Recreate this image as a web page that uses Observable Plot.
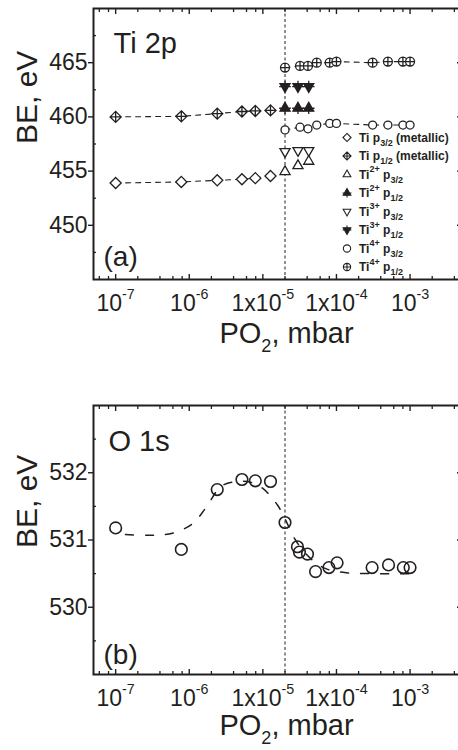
<!DOCTYPE html>
<html>
<head>
<meta charset="utf-8">
<script src="https://cdn.jsdelivr.net/npm/d3@7"></script>
<script src="https://cdn.jsdelivr.net/npm/@observablehq/plot@0.6"></script>
<style>
  body { margin: 0; background: #fff; }
  #fig { position: relative; width: 458px; height: 750px; overflow: hidden; background: #fff; }
  #fig svg { position: absolute; left: 0; }
</style>
</head>
<body>
<div id="fig"></div>
<script>
// ---- Ti 2p binding energies (eV) versus oxygen partial pressure (mbar) ----
const pMetallic = [1e-7, 7.8e-7, 2.4e-6, 5.2e-6, 7.9e-6, 1.27e-5];
const beTiMetalP32 = [453.9, 454.0, 454.15, 454.25, 454.35, 454.55];
const beTiMetalP12 = [460.0, 460.05, 460.3, 460.5, 460.55, 460.6];

const pSuboxide = [2e-5, 3e-5, 4.2e-5];
const beTi2P32 = [454.95, 455.5, 455.9];
const beTi2P12 = [460.8, 460.8, 460.8];
const beTi3P32 = [456.8, 456.9, 456.9];
const beTi3P12 = [462.8, 462.8, 462.8];

const pTi4 = [2e-5, 3.2e-5, 4.1e-5, 5.4e-5, 8.1e-5, 1e-4, 3.1e-4, 5e-4, 8e-4, 1e-3];
const beTi4P32 = [458.8, 459.05, 458.9, 459.25, 459.4, 459.4, 459.25, 459.25, 459.25, 459.25];
const beTi4P12 = [464.55, 464.7, 464.7, 465.0, 465.0, 465.1, 465.0, 465.1, 465.1, 465.1];

// ---- O 1s binding energies (eV) and the guide curve through them ----
const pO1s = [1e-7, 7.8e-7, 2.4e-6, 5.2e-6, 7.9e-6, 1.27e-5, 2e-5, 2.95e-5, 3.14e-5, 4.04e-5, 5.2e-5, 7.9e-5, 1.02e-4, 3.05e-4, 5.1e-4, 8.1e-4, 1e-3];
const beO1s = [531.18, 530.86, 531.75, 531.9, 531.88, 531.87, 531.26, 530.9, 530.82, 530.79, 530.53, 530.59, 530.66, 530.59, 530.63, 530.59, 530.59];
const pO1sGuide = [1.36e-7, 2.97e-7, 5.9e-7, 1.1e-6, 1.66e-6, 2.73e-6, 4.5e-6, 6.8e-6, 9.9e-6, 1.58e-5, 2.03e-5, 2.77e-5, 4.4e-5, 7.3e-5, 1.46e-4, 3.1e-4, 6.3e-4, 1.07e-3];
const beO1sGuide = [531.08, 531.07, 531.1, 531.24, 531.47, 531.8, 531.87, 531.86, 531.77, 531.52, 531.3, 531.0, 530.73, 530.57, 530.51, 530.5, 530.5, 530.5];

// pressure at which the oxide forms (dashed vertical marker)
const oxidationOnset = [2e-5];

// ---- axes ----
const xTickValues = [1e-7, 1e-6, 1e-5, 1e-4, 1e-3];
const xTickLabels = ["10^{-7}", "10^{-6}", "1x10^{-5}", "1x10^{-4}", "10^{-3}"];
const xMinorTicks = [6e-8, 8e-8, 2e-7, 4e-7, 6e-7, 8e-7, 2e-6, 4e-6, 6e-6, 8e-6, 2e-5, 4e-5, 6e-5, 8e-5, 2e-4, 4e-4, 6e-4, 8e-4, 2e-3, 4e-3];
const tiYTicks = [450, 455, 460, 465];
const tiYMinor = [447.5, 452.5, 457.5, 462.5, 467.5];
const oYTicks = [530, 531, 532];
const oYMinor = [529.5, 530.5, 531.5, 532.5];

const legendLabels = [
  "Ti p_{3/2} (metallic)", "Ti p_{1/2} (metallic)",
  "Ti^{2+} p_{3/2}", "Ti^{2+} p_{1/2}",
  "Ti^{3+} p_{3/2}", "Ti^{3+} p_{1/2}",
  "Ti^{4+} p_{3/2}", "Ti^{4+} p_{1/2}"
];

const ink = "#231f20";
const fontFamily = '"Liberation Sans", Arial, Helvetica, sans-serif';

// ---- marker shapes ----
const sqrt3 = Math.sqrt(3);
const triangleUp = {draw(ctx, size) {
  const s = Math.sqrt(size) * 0.6824, t = s / 2, u = s * sqrt3 / 2;
  ctx.moveTo(0, -s); ctx.lineTo(u, t); ctx.lineTo(-u, t); ctx.closePath();
}};
const triangleDown = {draw(ctx, size) {
  const s = Math.sqrt(size) * 0.6824, t = s / 2, u = s * sqrt3 / 2;
  ctx.moveTo(0, s); ctx.lineTo(u, -t); ctx.lineTo(-u, -t); ctx.closePath();
}};
const withCross = (shape, k) => ({draw(ctx, size) {
  shape.draw(ctx, size);
  const a = Math.sqrt(size) * k;
  ctx.moveTo(-a, 0); ctx.lineTo(a, 0); ctx.moveTo(0, -a); ctx.lineTo(0, a);
}});

const rows = (p, be) => p.map((x, i) => ({p: x, be: be[i]}));

const tiSeries = [
  {data: rows(pMetallic, beTiMetalP32), symbol: d3.symbolDiamond2, r: 5, fill: "white", line: true},
  {data: rows(pMetallic, beTiMetalP12), symbol: withCross(d3.symbolDiamond2, 0.62625), r: 5, fill: "white", line: true},
  {data: rows(pSuboxide, beTi2P32), symbol: triangleUp, r: 4.8, fill: "white"},
  {data: rows(pSuboxide, beTi2P12), symbol: withCross(triangleUp, 0.6824), r: 4.8, fill: ink},
  {data: rows(pSuboxide, beTi3P32), symbol: triangleDown, r: 4.8, fill: "white"},
  {data: rows(pSuboxide, beTi3P12), symbol: withCross(triangleDown, 0.6824), r: 4.8, fill: ink},
  {data: rows(pTi4, beTi4P32), symbol: d3.symbolCircle, r: 4, fill: "white", line: true},
  {data: rows(pTi4, beTi4P12), symbol: withCross(d3.symbolCircle, 0.5642), r: 4.5, fill: "white", line: true}
];

function frameMarks({yTicks, yMinor, yTitle}) {
  return [
    Plot.axisY(yTicks, {anchor: "left", tickSize: 5, tickPadding: 1, fontSize: 23, label: null, strokeWidth: 1.4,
      tickFormat: d => String(d)}),
    Plot.axisY(yMinor, {anchor: "left", tickSize: 3, dx: 3, fill: "none", label: null, strokeWidth: 1.3}),
    Plot.axisY(yTicks, {anchor: "right", tickSize: 5, dx: -5, fill: "none", label: null, strokeWidth: 1.4}),
    Plot.axisX(xTickValues, {anchor: "bottom", tickSize: 5, dy: -5, fill: "none", label: null, strokeWidth: 1.4}),
    Plot.axisX(xMinorTicks, {anchor: "bottom", tickSize: 3, dy: -3, fill: "none", label: null, strokeWidth: 1.3}),
    Plot.axisX(xTickValues, {anchor: "top", tickSize: 5, dy: 5, fill: "none", label: null, strokeWidth: 1.4}),
    Plot.axisX(xMinorTicks, {anchor: "top", tickSize: 3, dy: 3, fill: "none", label: null, strokeWidth: 1.3}),
    Plot.axisX(xTickValues, {anchor: "bottom", tickSize: 0, tickPadding: 15, fontSize: 23, label: null,
      tickFormat: d => xTickLabels[xTickValues.indexOf(d)]}),
    Plot.text([yTitle.text], {text: d => d, frameAnchor: "left", rotate: -90, dx: -57, dy: yTitle.dy,
      lineAnchor: "bottom", fontSize: 30}),
    Plot.frame({stroke: ink, strokeWidth: 2})
  ];
}

const common = {
  width: 458, marginTop: 8, marginLeft: 93, marginRight: -3,
  style: {fontFamily, color: ink, background: "white", overflow: "hidden"},
  x: {type: "log", domain: [5e-8, 5e-3]}
};

// ---- panel (a): Ti 2p ----
const tiPlot = Plot.plot({
  ...common,
  height: 360, marginBottom: 81,
  y: {domain: [445, 470]},
  marks: [
    Plot.ruleX(oxidationOnset, {stroke: ink, strokeWidth: 1, strokeDasharray: "3,2.5"}),
    ...tiSeries.filter(s => s.line).map(s =>
      Plot.line(s.data, {x: "p", y: "be", stroke: ink, strokeWidth: 1.1, strokeDasharray: "5,5"})),
    ...tiSeries.map(s =>
      Plot.dot(s.data, {x: "p", y: "be", symbol: s.symbol, r: s.r, fill: s.fill, stroke: ink, strokeWidth: 1.3})),
    Plot.text(["Ti 2p"], {text: d => d, frameAnchor: "top-left", dx: 20, dy: 44, textAnchor: "start", lineAnchor: "bottom", fontSize: 29}),
    Plot.text(["(a)"], {text: d => d, frameAnchor: "bottom-left", dx: 10, dy: -14, textAnchor: "start", lineAnchor: "bottom", fontSize: 28}),
    Plot.text(["PO_{2}, mbar"], {text: d => d, frameAnchor: "bottom", dx: 9, dy: 63, lineAnchor: "bottom", fontSize: 29}),
    ...frameMarks({yTicks: tiYTicks, yMinor: tiYMinor, yTitle: {text: "BE, eV", dy: 0}})
  ]
});

// ---- panel (b): O 1s ----
const oPlot = Plot.plot({
  ...common,
  height: 353, marginBottom: 76,
  y: {domain: [529, 533]},
  marks: [
    Plot.ruleX(oxidationOnset, {stroke: ink, strokeWidth: 1, strokeDasharray: "3,2.5"}),
    Plot.line(rows(pO1sGuide, beO1sGuide), {x: "p", y: "be", curve: "catmull-rom", stroke: ink, strokeWidth: 1.5, strokeDasharray: "8,12"}),
    Plot.dot(rows(pO1s, beO1s), {x: "p", y: "be", r: 5.8, fill: "none", stroke: ink, strokeWidth: 1.6}),
    Plot.text(["O 1s"], {text: d => d, frameAnchor: "top-left", dx: 15, dy: 45, textAnchor: "start", lineAnchor: "bottom", fontSize: 29}),
    Plot.text(["(b)"], {text: d => d, frameAnchor: "bottom-left", dx: 10, dy: -11, textAnchor: "start", lineAnchor: "bottom", fontSize: 28}),
    Plot.text(["PO_{2}, mbar"], {text: d => d, frameAnchor: "bottom", dx: 9, dy: 60, lineAnchor: "bottom", fontSize: 29}),
    ...frameMarks({yTicks: oYTicks, yMinor: oYMinor, yTitle: {text: "BE, eV", dy: 8}})
  ]
});

const fig = document.getElementById("fig");
tiPlot.style.top = "0px";
oPlot.style.top = "397px";
fig.appendChild(tiPlot);
fig.appendChild(oPlot);

// legend of panel (a)
const legend = {x: 347, top: 137.5, step: 18.5, size: 42};
const lg = d3.select(tiPlot).append("g")
  .attr("font-family", fontFamily).attr("font-size", 12).attr("font-weight", "bold")
  .attr("text-anchor", "start").attr("fill", ink).attr("class", "legend");
legendLabels.forEach((label, i) => {
  const s = tiSeries[i];
  const y = legend.top + i * legend.step;
  lg.append("path")
    .attr("transform", `translate(${legend.x},${y})`)
    .attr("d", d3.symbol(s.symbol, legend.size)())
    .attr("fill", s.fill).attr("stroke", ink).attr("stroke-width", 1.1);
  lg.append("text").attr("x", legend.x + 12).attr("y", y + 4).text(label);
});

// superscript / subscript markup: ^{...} and _{...}
function richText(el, src, scale) {
  const fs = parseFloat(getComputedStyle(el).fontSize);
  el.textContent = "";
  let shift = 0;
  for (const part of src.split(/(\^\{[^}]*\}|_\{[^}]*\})/).filter(Boolean)) {
    let kind = 0, str = part;
    if (part.startsWith("^{")) { kind = -1; str = part.slice(2, -1); }
    else if (part.startsWith("_{")) { kind = 1; str = part.slice(2, -1); }
    const target = kind < 0 ? -0.52 * fs : kind > 0 ? 0.33 * fs : 0;
    const ts = document.createElementNS("http://www.w3.org/2000/svg", "tspan");
    ts.textContent = str;
    if (kind) ts.setAttribute("font-size", (scale * fs).toFixed(1));
    if (target !== shift) ts.setAttribute("dy", (target - shift).toFixed(1));
    shift = target;
    el.appendChild(ts);
  }
}
for (const svg of [tiPlot, oPlot]) {
  svg.querySelectorAll("text").forEach(t => {
    if (/[\^_]\{/.test(t.textContent)) richText(t, t.textContent, t.closest("g.legend") ? 0.75 : 0.62);
  });
}
</script>
</body>
</html>
